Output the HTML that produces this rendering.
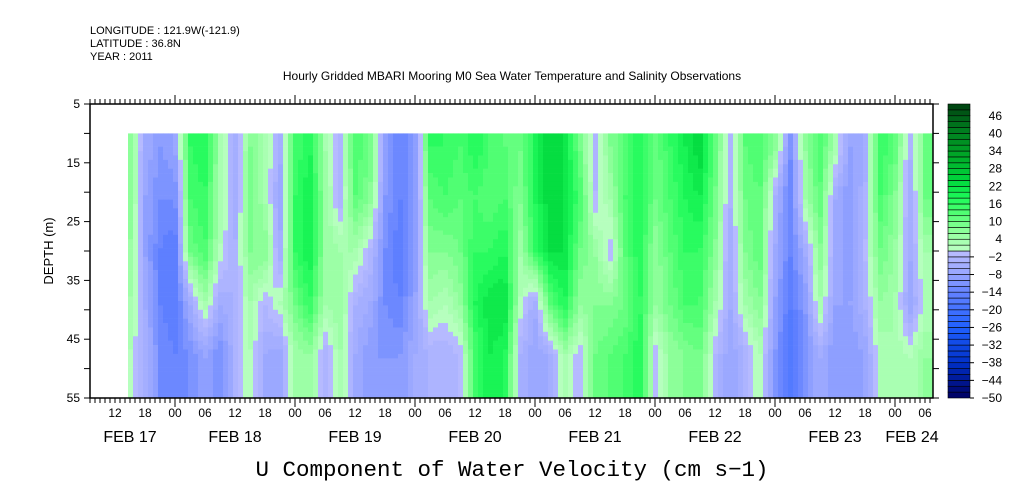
<!DOCTYPE html>
<html><head><meta charset="utf-8"><style>
body{margin:0;background:#fff;}
svg{display:block;font-family:"Liberation Sans",sans-serif;}
</style></head><body>
<svg id="c" width="1009" height="504" xmlns="http://www.w3.org/2000/svg">
<text x="90" y="34" font-size="11">LONGITUDE : 121.9W(-121.9)</text>
<text x="90" y="47" font-size="11">LATITUDE : 36.8N</text>
<text x="90" y="60" font-size="11">YEAR : 2011</text>
<text x="512" y="80" font-size="12" text-anchor="middle">Hourly Gridded MBARI Mooring M0 Sea Water Temperature and Salinity Observations</text>
<text x="512" y="476" font-size="22.5" font-family="Liberation Mono, monospace" text-anchor="middle">U Component of Water Velocity (cm s−1)</text>
<text transform="translate(53,251) rotate(-90)" font-size="13" text-anchor="middle">DEPTH (m)</text>
<g id="cells"></g><g id="axes"></g><g id="cbar"></g>
</svg>
<script>
const startHour = 15; // hours after Feb 17 00:00
const stepHours = 3;
const depthCenters = [12, 21, 30, 39, 48, 55];
const uValues = [
[8,8,6,4,2],[-6,-8,-8,-6,-4],[-10,-12,-14,-14,-12],[-8,-12,-16,-16,-14],[16,14,10,-6,-12],
[18,16,14,4,-8],[4,4,2,-6,-12],[-6,-6,-4,-4,-4],[8,10,8,4,2],[4,4,8,-2,-6],
[-6,-8,-6,2,-8],[14,16,16,10,4],[18,20,20,16,6],[4,6,6,4,-4],[-4,-4,4,6,4],
[14,12,4,-4,-6],[10,8,-2,-6,-10],[-8,-10,-12,-12,-10],[-14,-14,-16,-14,-10],[-10,-10,-10,-8,-6],
[16,12,8,4,-4],[16,14,8,2,-4],[14,12,10,6,-2],[18,14,16,18,14],[14,12,16,22,20],
[12,14,18,22,18],[10,8,4,2,-4],[18,18,16,-6,-8],[24,24,22,12,-6],[22,22,22,18,4],
[10,14,10,6,-2],[-4,-2,6,8,10],[8,4,-2,8,12],[12,14,12,10,14],[18,18,18,16,18],
[10,10,6,6,-2],[16,14,12,10,6],[20,18,16,14,8],[24,20,16,14,10],[12,10,8,4,-2],
[-4,-4,-6,-6,-8],[12,10,8,4,-4],[14,12,12,8,2],[8,-4,-6,-8,-10],[-12,-14,-14,-16,-18],
[6,4,-6,-10,-12],[14,12,8,4,-6],[4,-6,-6,-8,-10],[-8,-10,-10,-8,-10],[-6,-4,-2,-4,-8],
[16,14,10,6,2],[12,8,6,4,4],[-4,-6,-6,-8,2],[10,10,4,2,6]
];
const hourLabels = ["12","18","00","06","12","18","00","06","12","18","00","06","12","18","00","06","12","18","00","06","12","18","00","06","12","18","00","06"];
const dateLabels = ["FEB 17","FEB 18","FEB 19","FEB 20","FEB 21","FEB 22","FEB 23","FEB 24"];
const depthTicks = [5,15,25,35,45,55];
const cbarLabels = [46,40,34,28,22,16,10,4,-2,-8,-14,-20,-26,-32,-38,-44,-50];

const NS="http://www.w3.org/2000/svg";
const X0=90,X1=933,Y0=104,Y1=398,H0=7,PXH=5;
const xs=h=>X0+(h-H0)*PXH;
const ys=d=>Y0+(d-5)*(Y1-Y0)/50;
function mk(t,a,p){const e=document.createElementNS(NS,t);for(const k in a)e.setAttribute(k,a[k]);p.appendChild(e);return e;}
const anchors=[[-50,[0,0,96]],[-38,[0,48,200]],[-26,[32,96,255]],[-14,[100,130,255]],[-8,[150,165,255]],[-1,[182,186,255]],[1,[182,255,190]],[6,[150,255,160]],[12,[90,255,120]],[18,[30,250,90]],[24,[0,215,60]],[32,[0,170,40]],[42,[0,120,30]],[50,[0,64,16]]];
function col(v){v=Math.floor(v/2)*2+1;if(v<=anchors[0][0])return rgb(anchors[0][1]);
for(let i=1;i<anchors.length;i++){if(v<=anchors[i][0]){const a=anchors[i-1],b=anchors[i],t=(v-a[0])/(b[0]-a[0]);return rgb(a[1].map((c,j)=>c+(b[1][j]-c)*t));}}return rgb(anchors[anchors.length-1][1]);}
function rgb(c){return "rgb("+c.map(Math.round).join(",")+")";}
// field sampler: linear blend between data columns and rows (render smoothing)
function field(h,d){
  let fi=(h-startHour)/stepHours; fi=Math.max(0,Math.min(uValues.length-1,fi));
  const i0=Math.floor(fi),i1=Math.min(uValues.length-1,i0+1),tx=fi-i0;
  const rows=uValues[0].length;
  let fj=0;
  if(d<=depthCenters[0])fj=0; else if(d>=depthCenters[rows-1])fj=rows-1;
  else{for(let j=0;j<rows-1;j++){if(d<=depthCenters[j+1]){fj=j+(d-depthCenters[j])/(depthCenters[j+1]-depthCenters[j]);break;}}}
  const j0=Math.floor(fj),j1=Math.min(rows-1,j0+1),ty=fj-j0;
  const v=(i,j)=>uValues[i][j];
  return (v(i0,j0)*(1-ty)+v(i0,j1)*ty)*(1-tx)+(v(i1,j0)*(1-ty)+v(i1,j1)*ty)*tx;
}
const cells=document.getElementById('cells');
const hEnd=startHour+(uValues.length-1)*stepHours+1.5;
for(let h=14.6;h<hEnd;h+=1){
  const xa=xs(h), xb=Math.min(xs(h+1),X1);
  if(xa>=X1)break;
  for(let d=10;d<55;d+=0.75){
    const r=mk('rect',{x:xa,y:ys(d),width:xb-xa+0.3,height:ys(d+0.75)-ys(d)+0.3,fill:col(field(h+0.5,d+0.375))},cells);
    
    
  }
}
const ax=document.getElementById('axes');
const fr=mk('rect',{x:X0,y:Y0,width:X1-X0,height:Y1-Y0,fill:'none',stroke:'#000','stroke-width':1.5},ax);


for(let h=H0;h<=H0+170;h++){const x=xs(h);if(x>X1)break;const L=(h%24===0)?9:5;
 mk('line',{x1:x,x2:x,y1:Y1,y2:Y1+L,stroke:'#000'},ax);mk('line',{x1:x,x2:x,y1:Y0,y2:Y0-L,stroke:'#000'},ax);}
hourLabels.forEach((l,i)=>{const t=mk('text',{x:xs(12+i*6),y:417,'font-size':12,'text-anchor':'middle'},ax);t.textContent=l;
 
 });
dateLabels.forEach((l,i)=>{let x=xs(12+i*24);x=Math.max(130,Math.min(912,x));
 const t=mk('text',{x:x,y:442,'font-size':16,'text-anchor':'middle'},ax);t.textContent=l;
 
 });
for(let d=5;d<=55;d+=5){const y=ys(d);mk('line',{x1:X0-6,x2:X0,y1:y,y2:y,stroke:'#000'},ax);mk('line',{x1:X1,x2:X1+6,y1:y,y2:y,stroke:'#000'},ax);}
depthTicks.forEach(d=>{const t=mk('text',{x:X0-10,y:ys(d)+4,'font-size':12,'text-anchor':'end'},ax);t.textContent=d;
 
 });
const cb=document.getElementById('cbar');
const cy=v=>Y1-(v+50)*(Y1-Y0)/100;
for(let v=-50;v<50;v+=2){const r=mk('rect',{x:948,y:cy(v+2),width:22,height:cy(v)-cy(v+2),fill:col(v+1),stroke:'#000','stroke-width':0.6},cb);
 
 }
cbarLabels.forEach(v=>{const t=mk('text',{x:1002,y:cy(v)+4,'font-size':12,'text-anchor':'end'},cb);t.textContent=v<0?'−'+(-v):v;
 
 
 if(v<0)mk('line',{x1:970,x2:974,y1:cy(v),y2:cy(v),stroke:'#000'},cb);});
</script>
</body></html>
